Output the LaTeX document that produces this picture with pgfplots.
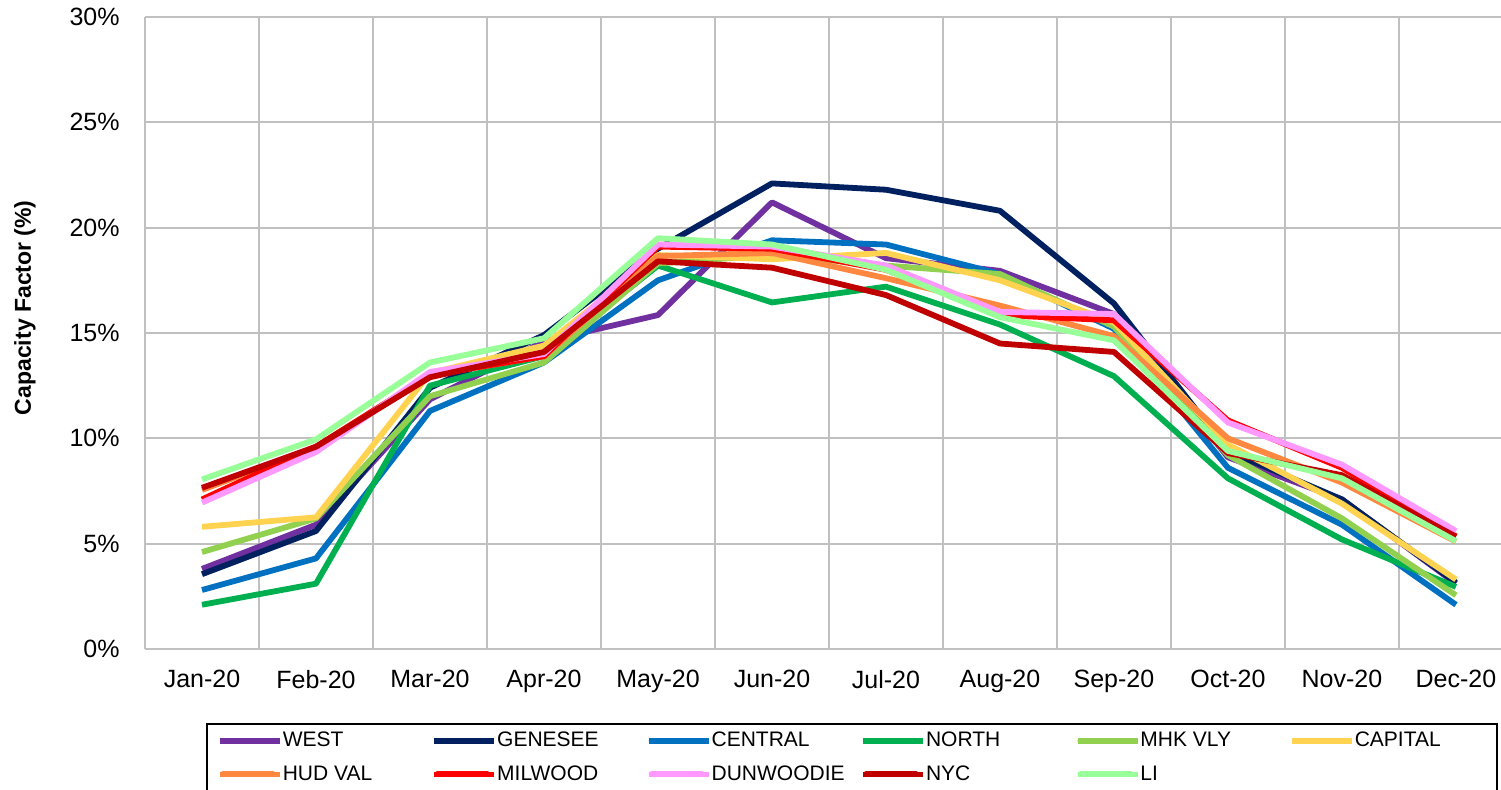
\documentclass[border=0pt]{standalone}
\usepackage{pgfplots}
\pgfplotsset{compat=1.18}
\usepackage{fontspec}
\setmainfont{Liberation Sans}
\definecolor{cWEST}{HTML}{7030A0}
\definecolor{cGEN}{HTML}{002060}
\definecolor{cCEN}{HTML}{0070C0}
\definecolor{cNOR}{HTML}{00B050}
\definecolor{cMHK}{HTML}{92D050}
\definecolor{cCAP}{HTML}{FFD34F}
\definecolor{cHUD}{HTML}{FF8840}
\definecolor{cMIL}{HTML}{FF0000}
\definecolor{cDUN}{HTML}{FF99FF}
\definecolor{cNYC}{HTML}{C00000}
\definecolor{cLI}{HTML}{99FF99}
\definecolor{gridc}{HTML}{C0C0C0}
\begin{document}
\begin{tikzpicture}
\path[use as bounding box] (-72.5pt,-70.5pt) rectangle (678pt,324.5pt);
\begin{axis}[
  at={(0pt,0pt)}, anchor=south west,
  scale only axis, width=678pt, height=316pt,
  xmin=-0.5, xmax=11.395, ymin=0, ymax=30,
  axis line style={draw=none},
  xtick={0,...,11},
  xticklabels={Jan-20,Feb-20,Mar-20,Apr-20,May-20,Jun-20,Jul-20,Aug-20,Sep-20,Oct-20,Nov-20,Dec-20},
  minor xtick={-0.5,0.5,...,10.5},
  ytick={0,5,...,30},
  yticklabels={0\%,5\%,10\%,15\%,20\%,25\%,30\%},
  major tick length=0pt, minor tick length=0pt,
  xmajorgrids=false, xminorgrids=true, ymajorgrids=true,
  grid style={draw=gridc, line width=1.1pt},
  minor grid style={draw=gridc, line width=1.1pt},
  tick label style={font=\fontsize{12.5}{14}\selectfont, inner sep=0pt},
  xticklabel style={anchor=north, yshift=-10.5pt},
  yticklabel style={anchor=east, xshift=-12.5pt},
  ylabel={Capacity Factor (\%)},
  ylabel style={font=\fontsize{11.5}{13}\selectfont\bfseries, at={(axis description cs:-0.0885,0.54)}, anchor=center},
  every axis plot/.append style={line width=2.9pt, line join=round, no markers},
  legend image code/.code={\draw[#1, line width=3pt, line cap=round] (1.5pt,0pt) -- (26.5pt,0pt); \path (0pt,0pt) -- (30pt,0pt);},
  legend columns=6,
  legend style={at={(axis description cs:0.045,-0.1171)}, anchor=north west,
    draw=black, line width=1pt, font=\fontsize{10.5}{12}\selectfont,
    inner xsep=5pt, inner ysep=4pt, row sep=8pt, column sep=0pt,
    nodes={inner sep=0pt, anchor=west}},
  legend cell align=left,
]
\addplot[cWEST] coordinates {(0,3.8)(1,5.9)(2,11.85)(3,14.6)(4,15.85)(5,21.2)(6,18.55)(7,17.95)(8,15.9)(9,9.1)(10,7.1)(11,3.1)};
\addlegendentry{\makebox[74.3pt][l]{WEST}}
\addplot[cGEN] coordinates {(0,3.55)(1,5.6)(2,12.4)(3,14.9)(4,19.0)(5,22.1)(6,21.8)(7,20.8)(8,16.4)(9,9.4)(10,7.1)(11,3.15)};
\addlegendentry{\makebox[74.3pt][l]{GENESEE}}
\addplot[cCEN] coordinates {(0,2.8)(1,4.3)(2,11.3)(3,13.6)(4,17.5)(5,19.4)(6,19.2)(7,17.8)(8,15.2)(9,8.6)(10,5.9)(11,2.1)};
\addlegendentry{\makebox[74.3pt][l]{CENTRAL}}
\addplot[cNOR] coordinates {(0,2.1)(1,3.1)(2,12.5)(3,13.9)(4,18.2)(5,16.45)(6,17.2)(7,15.4)(8,12.95)(9,8.1)(10,5.2)(11,2.95)};
\addlegendentry{\makebox[74.3pt][l]{NORTH}}
\addplot[cMHK] coordinates {(0,4.6)(1,6.2)(2,12.0)(3,13.6)(4,18.3)(5,18.7)(6,18.2)(7,17.8)(8,15.3)(9,9.2)(10,6.2)(11,2.55)};
\addlegendentry{\makebox[74.3pt][l]{MHK VLY}}
\addplot[cCAP] coordinates {(0,5.8)(1,6.25)(2,13.1)(3,14.4)(4,18.7)(5,18.5)(6,18.8)(7,17.5)(8,15.5)(9,9.7)(10,6.9)(11,3.3)};
\addlegendentry{\makebox[66pt][l]{CAPITAL}}
\addplot[cHUD] coordinates {(0,7.55)(1,9.6)(2,13.0)(3,13.9)(4,18.65)(5,18.8)(6,17.6)(7,16.3)(8,14.85)(9,10.0)(10,7.9)(11,5.1)};
\addlegendentry{HUD VAL}
\addplot[cMIL] coordinates {(0,7.1)(1,9.6)(2,13.0)(3,13.9)(4,19.1)(5,19.0)(6,18.0)(7,15.85)(8,15.6)(9,10.85)(10,8.6)(11,5.35)};
\addlegendentry{MILWOOD}
\addplot[cDUN] coordinates {(0,6.95)(1,9.35)(2,13.15)(3,14.0)(4,19.2)(5,19.1)(6,18.2)(7,16.0)(8,15.9)(9,10.75)(10,8.75)(11,5.6)};
\addlegendentry{DUNWOODIE}
\addplot[cNYC] coordinates {(0,7.65)(1,9.6)(2,12.9)(3,14.1)(4,18.4)(5,18.1)(6,16.8)(7,14.5)(8,14.1)(9,9.3)(10,8.25)(11,5.33)};
\addlegendentry{NYC}
\addplot[cLI] coordinates {(0,8.05)(1,9.95)(2,13.6)(3,14.75)(4,19.5)(5,19.2)(6,18.0)(7,15.75)(8,14.65)(9,9.4)(10,8.1)(11,5.12)};
\addlegendentry{LI}
\end{axis}
\end{tikzpicture}
\end{document}
